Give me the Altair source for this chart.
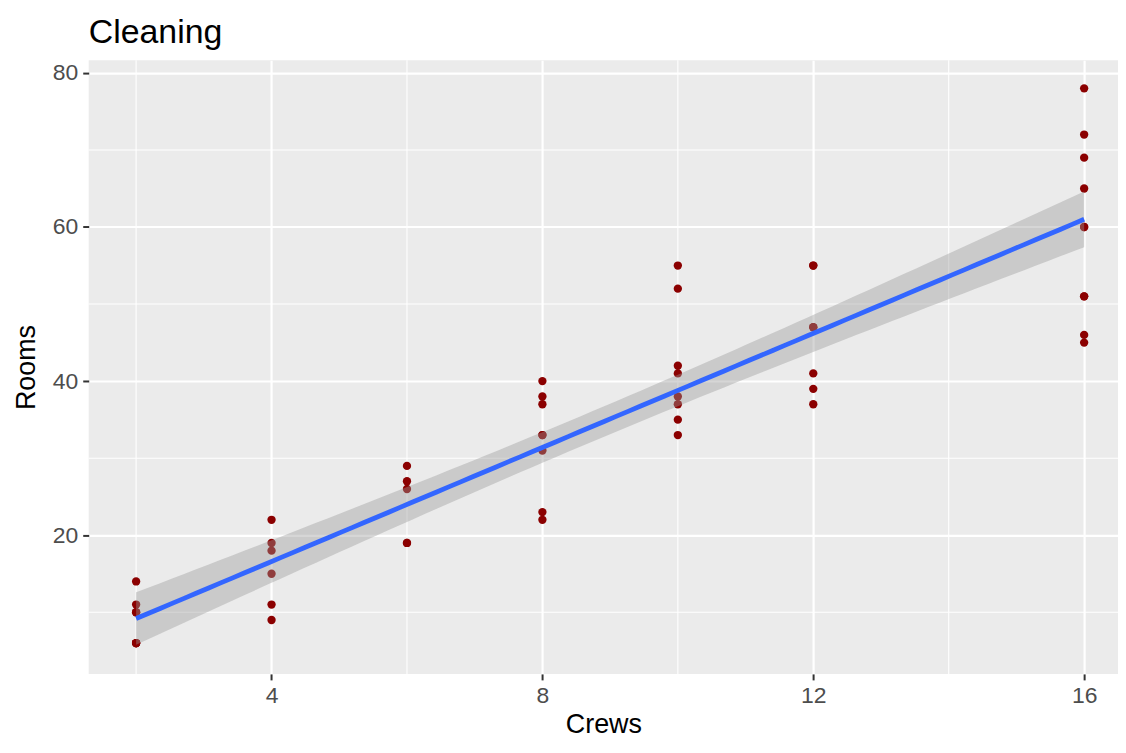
import altair as alt
import numpy as np
import pandas as pd

# Data (Crews, Rooms)
crews = [2, 2, 2, 2, 2, 2, 2, 2, 2,
         4, 4, 4, 4, 4, 4,
         6, 6, 6, 6, 6,
         8, 8, 8, 8, 8, 8, 8, 8,
         10, 10, 10, 10, 10, 10, 10, 10,
         12, 12, 12, 12, 12, 12, 12,
         16, 16, 16, 16, 16, 16, 16, 16, 16, 16]
rooms = [6, 6, 6, 6, 6, 10, 10, 11, 14,
         9, 11, 15, 18, 19, 22,
         19, 19, 26, 27, 29,
         22, 23, 31, 33, 33, 37, 38, 40,
         33, 35, 37, 38, 41, 42, 52, 55,
         37, 39, 41, 47, 47, 55, 55,
         45, 46, 51, 51, 60, 60, 65, 69, 72, 78]

x_major = [4, 8, 12, 16]
x_minor = [2, 6, 10, 14]
y_major = [20, 40, 60, 80]
y_minor = [10, 30, 50, 70]

pts = pd.DataFrame({"Crews": crews, "Rooms": rooms})

# OLS fit with 95% confidence band (as geom_smooth(method="lm"))
X = np.array(crews, dtype=float)
Y = np.array(rooms, dtype=float)
n = len(X)
xm, ym = X.mean(), Y.mean()
sxx = ((X - xm) ** 2).sum()
b1 = ((X - xm) * (Y - ym)).sum() / sxx
b0 = ym - b1 * xm
s = np.sqrt(((Y - (b0 + b1 * X)) ** 2).sum() / (n - 2))
tq = 2.00758  # t(0.975, df=51)
grid = np.linspace(X.min(), X.max(), 80)
fit = b0 + b1 * grid
se = s * np.sqrt(1.0 / n + (grid - xm) ** 2 / sxx)
band = pd.DataFrame({"Crews": grid, "fit": fit, "lo": fit - tq * se, "hi": fit + tq * se})

FONT = "Liberation Sans"
xscale = alt.Scale(domain=[1.3, 16.5], nice=False, zero=False)
yscale = alt.Scale(domain=[2.0, 81.66], nice=False, zero=False)

xaxis = alt.Axis(values=x_major, title="Crews", grid=True, gridColor="white", gridWidth=2.2,
                 domain=False, tickColor="#333333", tickSize=6, tickWidth=2,
                 labelColor="#4D4D4D", labelFontSize=23, labelFont=FONT, labelPadding=5,
                 titleFont=FONT, titleFontSize=27, titleFontWeight="normal", titleColor="black",
                 titlePadding=4)
yaxis = alt.Axis(values=y_major, title="Rooms", grid=True, gridColor="white", gridWidth=2.2,
                 domain=False, tickColor="#333333", tickSize=6, tickWidth=2,
                 labelColor="#4D4D4D", labelFontSize=23, labelFont=FONT, labelPadding=5,
                 titleFont=FONT, titleFontSize=27, titleFontWeight="normal", titleColor="black",
                 titlePadding=12)

vminor = alt.Chart(pd.DataFrame({"v": x_minor})).mark_rule(color="white", strokeWidth=1.1).encode(
    x=alt.X("v:Q", scale=xscale, axis=xaxis))
hminor = alt.Chart(pd.DataFrame({"h": y_minor})).mark_rule(color="white", strokeWidth=1.1).encode(
    y=alt.Y("h:Q", scale=yscale, axis=yaxis))

points = alt.Chart(pts).mark_circle(color="#8B0000", size=70, opacity=1).encode(
    x=alt.X("Crews:Q", scale=xscale, axis=xaxis),
    y=alt.Y("Rooms:Q", scale=yscale, axis=yaxis))

ribbon = alt.Chart(band).mark_area(color="#999999", opacity=0.4).encode(
    x=alt.X("Crews:Q", scale=xscale, axis=xaxis),
    y=alt.Y("lo:Q", scale=yscale, axis=yaxis),
    y2="hi:Q")

line = alt.Chart(band).mark_line(color="#3366FF", strokeWidth=4.8).encode(
    x=alt.X("Crews:Q", scale=xscale, axis=xaxis),
    y=alt.Y("fit:Q", scale=yscale, axis=yaxis))

chart = alt.layer(vminor, hminor, points, ribbon, line).properties(
    width=1033, height=616,
    title=alt.TitleParams("Cleaning", anchor="start", frame="group", fontSize=34, font=FONT,
                          fontWeight="normal", color="black", offset=10),
    autosize=alt.AutoSizeParams(type="none"),
    padding={"left": 81, "top": 51, "right": 0, "bottom": 64},
).configure_view(fill="#EBEBEB", stroke=None)

chart.save("out.html", embed_options={"renderer": "svg", "actions": False})
